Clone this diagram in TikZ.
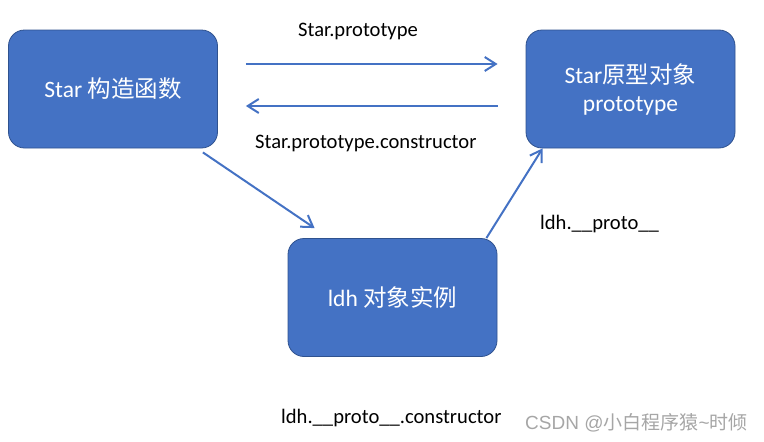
\documentclass[tikz,border=0pt]{standalone}
\usepackage{fontspec}
\setmainfont{Carlito}
\newfontfamily\cjk{Noto Sans CJK SC}
\newfontfamily\wmfont{Liberation Sans}
\usetikzlibrary{arrows.meta}
\definecolor{boxfill}{HTML}{4472C4}
\definecolor{boxedge}{HTML}{2F528F}
\definecolor{linkblue}{HTML}{4472C4}
\definecolor{wmgrey}{HTML}{A6A6A6}

\begin{document}
\begin{tikzpicture}[
  x=1pt,
  y=-1pt,
  every node/.style={inner sep=0pt},
  box/.style={draw=boxedge, line width=0.8pt, fill=boxfill, rounded corners=16pt,
              minimum width=209pt, minimum height=118pt, text=white, align=center,
              font=\fontsize{23.5}{28}\selectfont},
  link/.style={linkblue, line width=2pt,
               -{Straight Barb[length=11pt, width=14pt]}},
  lbl/.style={anchor=base west, font=\fontsize{20.6}{24}\selectfont, black}
]
  % ---- page frame, same size as the source ----
  \path (0,0) rectangle (764,442);

  % ---- the three boxes ----
  \node[box] (star)  at (113,89)    {Star {\cjk 构造函数}};
  \node[box] (proto) at (630.5,89)  {Star{\cjk 原型对象}\\prototype};
  \node[box] (ldh)   at (392.5,297.5) {ldh {\cjk 对象实例}};

  % ---- constructor <-> prototype ----
  \draw[link, shorten <=28pt, shorten >=28pt]
    ([yshift=25pt]star.east) -- ([yshift=25pt]proto.west);
  \draw[link, shorten <=28pt, shorten >=28pt]
    ([yshift=-17pt]proto.west) -- ([yshift=-17pt]star.east);

  % ---- constructor -> instance -> prototype ----
  \draw[link] ([shift={(-15pt,-4pt)}]star.south east)
    -- ([shift={(27pt,10pt)}]ldh.north west);
  \draw[link] ([xshift=-11pt]ldh.north east)
    -- ([xshift=17pt]proto.south west);

  % ---- labels ----
  \node[lbl] (lproto) at (298,36)  {Star.prototype};
  \node[lbl] (lcons)  at (255,148) {Star.prototype.constructor};
  \node[lbl] (lldh)   at (540,229) {ldh.\_\_proto\_\_};
  \node[lbl] (lldhc)  at (281,423) {ldh.\_\_proto\_\_.constructor};

  % ---- watermark ----
  \node[anchor=base west, text=wmgrey, font=\fontsize{19}{22}\selectfont\wmfont]
    (mark) at (525,429) {CSDN @{\cjk 小白程序猿}\textasciitilde{\cjk 时倾}};
\end{tikzpicture}
\end{document}
